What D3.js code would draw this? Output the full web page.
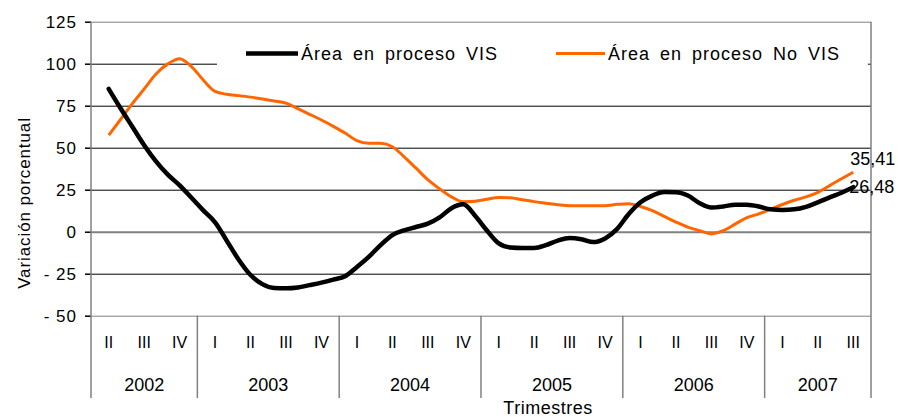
<!DOCTYPE html>
<html>
<head>
<meta charset="utf-8">
<script src="https://cdn.jsdelivr.net/npm/d3@7"></script>
<style>
body { margin: 0; background: #fff; }
svg { display: block; font-family: "Liberation Sans", Arial, sans-serif; }
</style>
</head>
<body>
<svg id="chart" width="898" height="417"></svg>
<script>
//chart data: years and the quarters shown for each one
var years = ["2002", "2003", "2004", "2005", "2006", "2007"];
var yearQuarters = [
    ["II", "III", "IV"],
    ["I", "II", "III", "IV"],
    ["I", "II", "III", "IV"],
    ["I", "II", "III", "IV"],
    ["I", "II", "III", "IV"],
    ["I", "II", "III"]
];
var yTicks = [125, 100, 75, 50, 25, 0, -25, -50];
var seriesNames = ["Área en proceso VIS", "Área en proceso No VIS"];

//monthly values (3 per quarter), from 2002 II to 2007 III
var visValues = [85, 73.5, 62.5, 51.5, 41.9, 34, 27.6, 20.2, 12.7, 5.5,
    -5.5, -16.7, -25.8, -31.2, -33.5, -33.7, -33.2, -31.8, -30.3, -28.5,
    -26.5, -21, -15, -8, -2, 0.8, 2.8, 4.8, 8.5, 14,
    16.3, 9.5, 0.7, -7, -9.4, -9.7, -9.7, -8, -5.3, -3.8,
    -4.5, -6.2, -4, 1.5, 10.5, 17.5, 21.5, 23.6, 23.5, 21.5,
    17, 14.4, 15, 16.1, 16, 15, 13.3, 12.9, 13.3, 14.8,
    17.5, 20.4, 23.2, 26.48];
var noVisValues = [57.5, 66.8, 76.2, 85, 93.9, 99.9, 103, 98.3, 90.3, 83.5,
    81.8, 81, 80.1, 79, 77.8, 76.5, 73.2, 69.9, 66.5, 62.7,
    58.7, 54.2, 52.6, 52.6, 50.6, 44.6, 37.8, 31, 25.5, 20.7,
    17.8, 18.1, 19.3, 20.4, 20.2, 19, 17.9, 17, 16.1, 15.5,
    15.5, 15.5, 15.5, 16.3, 16.7, 15, 12.5, 9.1, 5.7, 2.7,
    0.6, -1.3, 0.6, 4.5, 8.4, 10.6, 13.4, 16.2, 18.7, 20.7,
    23.4, 27.4, 31.5, 35.41];

var colors = ["#000000", "#FF6600"];

//plot box (avoid the name "top", it is window.top)
var plotLeft = 91, plotRight = 871, plotTop = 21.7, plotBottom = 315.7, plotFoot = 398;
var svg = d3.select("#chart");

//flat list of quarters
var quarters = [];
years.forEach(function (yr, i) {
    yearQuarters[i].forEach(function (q) {
        quarters.push({ year: yr, q: q });
    });
});

var y = d3.scaleLinear().domain([-50, 125]).range([plotBottom, plotTop]);
var xq = d3.scaleBand().domain(d3.range(quarters.length)).range([plotLeft, plotRight]);
var bw = xq.bandwidth();
var xm = d3.scaleLinear()
    .domain([0, visValues.length - 1])
    .range([xq(0) + bw / 2, xq(quarters.length - 1) + bw / 2]);

//gridlines
var grid = svg.append("g")
    .attr("transform", "translate(" + plotLeft + ",0)")
    .call(d3.axisLeft(y).tickValues(yTicks).tickSize(-(plotRight - plotLeft)).tickFormat(""));
grid.select(".domain").remove();
grid.selectAll(".tick line")
    .attr("stroke", function (d) { return (d === 0 || d === 125 || d === -50) ? "#808080" : "#000"; })
    .attr("stroke-width", function (d) { return d === 0 ? 2 : 1; });

//white legend box covers part of the grid
svg.append("rect")
    .attr("x", 217).attr("y", 32)
    .attr("width", 651).attr("height", 52)
    .attr("fill", "#fff");

//y axis ticks and labels
var yaxis = svg.append("g")
    .attr("transform", "translate(" + plotLeft + ",0)")
    .call(d3.axisLeft(y).tickValues(yTicks).tickSize(6).tickSizeOuter(0).tickPadding(8)
        .tickFormat(function (d) { return d < 0 ? "- " + (-d) : d; }));
yaxis.select(".domain").remove();
yaxis.selectAll(".tick line").attr("stroke", "#000").attr("stroke-width", 1.5);
yaxis.selectAll("text")
    .attr("font-size", "17px")
    .attr("letter-spacing", "1px")
    .attr("fill", "#000")
    .style("font-family", "Liberation Sans, Arial, sans-serif");

//frame lines
svg.append("line").attr("x1", plotLeft).attr("x2", plotLeft).attr("y1", plotTop).attr("y2", plotFoot)
    .attr("stroke", "#808080").attr("stroke-width", 1.5);
svg.append("line").attr("x1", plotRight).attr("x2", plotRight).attr("y1", plotTop).attr("y2", plotFoot)
    .attr("stroke", "#808080").attr("stroke-width", 1.5);

//year separators in the category area
var yearStart = [];
quarters.forEach(function (d, i) {
    if (i > 0 && d.year !== quarters[i - 1].year) yearStart.push(i);
});
svg.selectAll(".sep").data(yearStart).enter().append("line")
    .attr("x1", function (i) { return xq(i); })
    .attr("x2", function (i) { return xq(i); })
    .attr("y1", plotBottom).attr("y2", plotFoot)
    .attr("stroke", "#808080").attr("stroke-width", 1.5);

//quarter labels
svg.selectAll(".qlabel").data(quarters).enter().append("text")
    .attr("x", function (d, i) { return xq(i) + bw / 2; })
    .attr("y", 347.5)
    .attr("text-anchor", "middle")
    .attr("font-size", "16px")
    .text(function (d) { return d.q; });

//year labels centred under their quarters
svg.selectAll(".ylabel").data(years).enter().append("text")
    .attr("x", function (yr) {
        var idx = d3.range(quarters.length).filter(function (i) { return quarters[i].year === yr; });
        return (xq(idx[0]) + xq(idx[idx.length - 1]) + bw) / 2;
    })
    .attr("y", 390.5)
    .attr("text-anchor", "middle")
    .attr("font-size", "18px")
    .text(function (d) { return d; });

//axis titles
svg.append("text")
    .attr("x", 548).attr("y", 414)
    .attr("text-anchor", "middle")
    .attr("font-size", "18px")
    .attr("letter-spacing", "0.5px")
    .text("Trimestres");
svg.append("text")
    .attr("transform", "translate(30,203) rotate(-90)")
    .attr("text-anchor", "middle")
    .attr("font-size", "17px")
    .attr("letter-spacing", "0.9px")
    .text("Variación porcentual");

//series lines
var line = d3.line()
    .x(function (d, i) { return xm(i); })
    .y(function (d) { return y(d); })
    .curve(d3.curveMonotoneX);

svg.append("path").datum(noVisValues)
    .attr("d", line)
    .attr("fill", "none")
    .attr("stroke", colors[1])
    .attr("stroke-width", 3)
    .attr("stroke-linejoin", "round");
svg.append("path").datum(visValues)
    .attr("d", line)
    .attr("fill", "none")
    .attr("stroke", colors[0])
    .attr("stroke-width", 4.5)
    .attr("stroke-linejoin", "round")
    .attr("stroke-linecap", "round");

//end value labels
var last = visValues.length - 1;
svg.append("text")
    .attr("x", xm(last) - 3).attr("y", y(noVisValues[last]) - 7)
    .attr("font-size", "18px")
    .text(d3.format(".2f")(noVisValues[last]).replace(".", ","));
svg.append("text")
    .attr("x", xm(last) - 4).attr("y", y(visValues[last]) + 6)
    .attr("font-size", "18px")
    .text(d3.format(".2f")(visValues[last]).replace(".", ","));

//legend
var legendX = [246, 556];
var legendW = [52, 49];
var legendStroke = [4.5, 3];
var legend = svg.selectAll(".legend").data(seriesNames).enter().append("g");
legend.append("line")
    .attr("x1", function (d, i) { return legendX[i]; })
    .attr("x2", function (d, i) { return legendX[i] + legendW[i]; })
    .attr("y1", 53.5).attr("y2", 53.5)
    .attr("stroke", function (d, i) { return colors[i]; })
    .attr("stroke-width", function (d, i) { return legendStroke[i]; });
legend.append("text")
    .attr("x", function (d, i) { return legendX[i] + legendW[i] + 3; })
    .attr("y", 60)
    .attr("font-size", "18px")
    .attr("letter-spacing", "1px")
    .attr("word-spacing", "4px")
    .text(function (d) { return d; });
</script>
</body>
</html>
